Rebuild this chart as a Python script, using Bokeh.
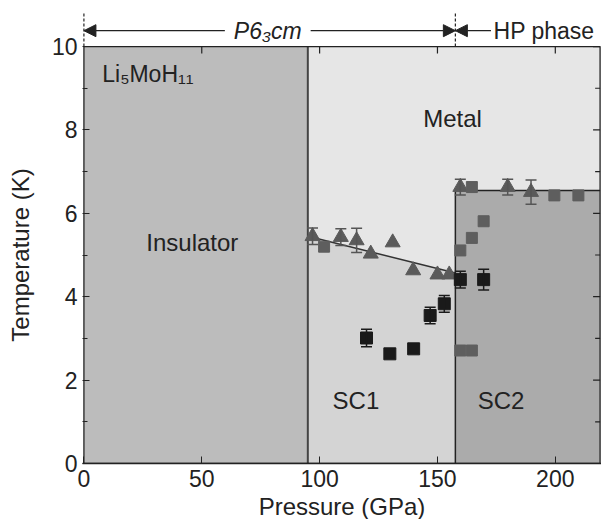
import math
from bokeh.plotting import figure
from bokeh.models import (ColumnDataSource, Whisker, TeeHead, Arrow, NormalHead, Label,
                          FixedTicker, Range1d)
from bokeh.embed import file_html
from bokeh.resources import INLINE

# ---- data ----
p_ins_metal = 95.0          # insulator / metal boundary (GPa)
p_hp = 157.6                # P6_3cm -> HP phase boundary (GPa)
tc_line_p = [95.0, 157.6]   # SC1 Tc line
tc_line_t = [5.45, 4.57]
sc2_tc = 6.55
x_max = 219.0
t_max = 10.0

tri_p = [97.0, 109.0, 115.7, 121.7, 131.0, 139.7, 150.0, 155.0, 159.7, 179.8, 189.7]
tri_t = [5.45, 5.43, 5.35, 5.03, 5.30, 4.63, 4.53, 4.53, 6.63, 6.63, 6.51]
tri_err = [0.20, 0.20, 0.29, 0, 0, 0, 0, 0, 0.19, 0.19, 0.29]

gsq_p = [101.9, 159.7, 164.6, 169.6, 164.6, 199.6, 209.8, 159.7, 164.6]
gsq_t = [5.20, 5.11, 5.41, 5.81, 6.63, 6.43, 6.43, 2.71, 2.71]

bsq_p = [119.9, 129.8, 139.9, 146.9, 152.9, 159.7, 169.6]
bsq_t = [3.01, 2.63, 2.75, 3.55, 3.83, 4.41, 4.41]
bsq_err = [0.21, 0, 0, 0.20, 0.20, 0.20, 0.25]

x_ticks = [0, 50, 100, 150, 200]
y_ticks = [0, 2, 4, 6, 8, 10]
y_minor = [1, 3, 5, 7, 9]

# phase arrows drawn above the box
arrow_t = 10.38
dash_top = 10.815
phase_arrows = [(59.8, 0.0), (96.2, p_hp), (172.7, p_hp)]

FONT = "Liberation Sans"
INK = "#222222"
PAD = 0.6
Y_TOP = 10.96
NBSP = "\u00a0"

p = figure(x_range=Range1d(-PAD, x_max + PAD), y_range=Range1d(0, Y_TOP),
           frame_width=519, frame_height=457,
           output_backend="svg", toolbar_location=None,
           min_border_left=82, min_border_right=0, min_border_top=6, min_border_bottom=0,
           background_fill_color="white", border_fill_color="white")
p.grid.visible = False
p.outline_line_color = None

# phase regions
p.quad(left=[0], right=[p_ins_metal], bottom=[0], top=[t_max], fill_color="#bcbcbc", line_color=None)
p.quad(left=[p_ins_metal], right=[x_max], bottom=[0], top=[t_max], fill_color="#e6e6e6", line_color=None)
p.patch(x=[p_ins_metal, tc_line_p[0], tc_line_p[1], p_hp], y=[0, tc_line_t[0], tc_line_t[1], 0],
        fill_color="#d4d4d4", line_color=None)
p.quad(left=[p_hp], right=[x_max], bottom=[0], top=[sc2_tc], fill_color="#ababab", line_color=None)

# boundary lines
p.line(x=[p_ins_metal, p_ins_metal], y=[0, t_max], line_color="#444444", line_width=2)
p.line(x=tc_line_p, y=tc_line_t, line_color="#333333", line_width=1.5)
p.line(x=[p_hp, p_hp], y=[0, sc2_tc], line_color=INK, line_width=1.5)
p.line(x=[p_hp, x_max], y=[sc2_tc, sc2_tc], line_color=INK, line_width=1.5)

# box outline
p.quad(left=[0], right=[x_max], bottom=[0], top=[t_max], fill_color=None,
       line_color=INK, line_width=1.3)

# mirrored ticks on top and right edges
TL_Y = 0.17     # tick length in K  (~7 px)
TL_X = 2.97     # major tick length in GPa (~7 px)
TL_XM = 2.1     # minor tick length in GPa (~5 px)
p.segment(x0=x_ticks[1:], y0=[t_max] * 4, x1=x_ticks[1:], y1=[t_max - TL_Y] * 4,
          line_color=INK, line_width=1.2)
p.segment(x0=[x_max] * len(y_ticks), y0=y_ticks, x1=[x_max - TL_X] * len(y_ticks), y1=y_ticks,
          line_color=INK, line_width=1.2)
p.segment(x0=[x_max] * len(y_minor), y0=y_minor, x1=[x_max - TL_XM] * len(y_minor), y1=y_minor,
          line_color=INK, line_width=1.2)

# error bars
def whisk(px, pt, pe, col):
    xs = [a for a, e in zip(px, pe) if e > 0]
    lo = [t - e for t, e in zip(pt, pe) if e > 0]
    hi = [t + e for t, e in zip(pt, pe) if e > 0]
    src = ColumnDataSource(dict(x=xs, lo=lo, hi=hi))
    w = Whisker(source=src, base="x", lower="lo", upper="hi", dimension="height",
                line_color=col, line_width=1.5,
                lower_head=TeeHead(size=11, line_color=col, line_width=1.5),
                upper_head=TeeHead(size=11, line_color=col, line_width=1.5),
                level="glyph")
    p.add_layout(w)

whisk(tri_p, tri_t, tri_err, "#555555")
whisk(bsq_p, bsq_t, bsq_err, "#1a1a1a")

p.scatter(x=tri_p, y=tri_t, marker="triangle", size=15, fill_color="#5a5a5a", line_color="#5a5a5a")
p.scatter(x=gsq_p, y=gsq_t, marker="square", size=11, fill_color="#5e5e5e", line_color="#5e5e5e")
p.scatter(x=bsq_p, y=bsq_t, marker="square", size=12, fill_color="#1a1a1a", line_color="#1a1a1a")

# region labels
def lab(x, y, t, align="center", size="24px", style="normal"):
    p.add_layout(Label(x=x, y=y, text=t, text_align=align, text_baseline="middle",
                       text_font=FONT, text_font_size=size, text_color=INK,
                       text_font_style=style))

lab(46, 5.3, "Insulator")
lab(156.4, 8.28, "Metal")
lab(115.4, 1.5, "SC1")
lab(177.0, 1.5, "SC2")
lab(7.8, 9.33, "Li₅MoH₁₁", align="left", size="23px")

# phase arrows and labels above the box
for xs, xe in phase_arrows:
    p.add_layout(Arrow(x_start=xs, y_start=arrow_t, x_end=xe, y_end=arrow_t, line_width=1.3,
                       line_color=INK,
                       end=NormalHead(size=12, fill_color=INK, line_color=INK)))
p.segment(x0=[0, p_hp], y0=[t_max] * 2, x1=[0, p_hp], y1=[dash_top] * 2,
          line_color=INK, line_dash="3 2", line_width=1.2)
lab(78, arrow_t, "P6₃cm", size="23px", style="italic")
lab(173.8, arrow_t, "HP phase", align="left", size="23px")

# axes
for ax in [p.xaxis[0], p.yaxis[0]]:
    ax.axis_line_color = INK
    ax.axis_line_width = 1.3
    ax.major_tick_in = 7
    ax.major_tick_out = 0
    ax.minor_tick_in = 5
    ax.minor_tick_out = 0
    ax.major_tick_line_color = INK
    ax.minor_tick_line_color = INK
    ax.major_label_text_font = FONT
    ax.major_label_text_font_size = "23px"
    ax.major_label_text_color = INK
    ax.axis_label_text_font = FONT
    ax.axis_label_text_font_size = "24px"
    ax.axis_label_text_font_style = "normal"
    ax.axis_label_text_color = INK

p.xaxis[0].ticker = FixedTicker(ticks=x_ticks)
p.xaxis[0].minor_tick_line_color = None
p.xaxis[0].axis_label = "Pressure (GPa)"
p.xaxis[0].major_label_standoff = 6
p.xaxis[0].axis_label_standoff = 3
p.yaxis[0].ticker = FixedTicker(ticks=y_ticks, minor_ticks=y_minor)
p.yaxis[0].axis_line_color = None
p.yaxis[0].major_label_standoff = 5
# trailing no-break spaces shift the title down so it centres on the 0-10 K box
p.yaxis[0].axis_label = "Temperature (K)" + NBSP * 6
p.yaxis[0].axis_label_standoff = 15

open("out.html", "w").write(file_html(p, INLINE))
